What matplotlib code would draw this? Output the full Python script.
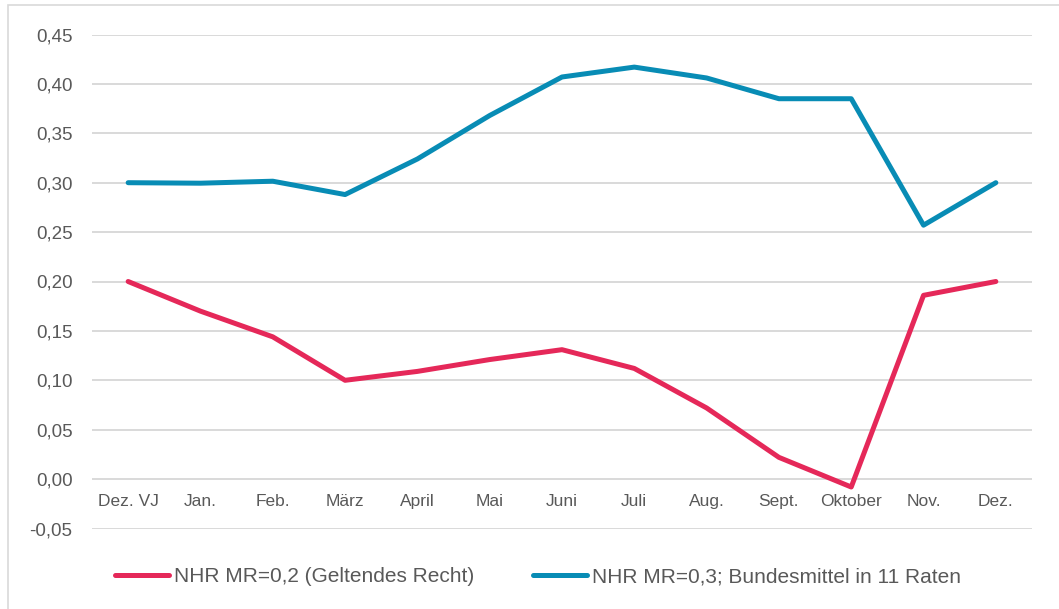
import matplotlib
matplotlib.use("Agg")
import matplotlib.pyplot as plt
from matplotlib.patches import Rectangle
from matplotlib.ticker import FixedLocator, FuncFormatter

categories = ["Dez. VJ", "Jan.", "Feb.", "März", "April", "Mai", "Juni",
              "Juli", "Aug.", "Sept.", "Oktober", "Nov.", "Dez."]
nhr_02 = [0.200, 0.170, 0.144, 0.100, 0.109, 0.121, 0.131,
          0.112, 0.072, 0.022, -0.008, 0.186, 0.200]
nhr_03 = [0.300, 0.2995, 0.3015, 0.288, 0.324, 0.368, 0.407,
          0.417, 0.406, 0.385, 0.385, 0.257, 0.300]
label_02 = "NHR MR=0,2 (Geltendes Recht)"
label_03 = "NHR MR=0,3; Bundesmittel in 11 Raten"
yticks = [-0.05, 0.00, 0.05, 0.10, 0.15, 0.20, 0.25, 0.30, 0.35, 0.40, 0.45]

RED = "#E52859"
BLUE = "#088CB5"
TXT = "#595959"
GRID = "#D9D9D9"

plt.rcParams['font.family'] = ['Liberation Sans', 'DejaVu Sans']

fig = plt.figure(figsize=(10.59, 6.09), dpi=100)
W, H = 1059, 609
ax = fig.add_axes([92 / W, 1 - 528.5 / H, (1032 - 92) / W, (528.5 - 34.5) / H])

# figure border
fig.patches.append(Rectangle((8 / W, -0.05), 1.2, 1 - 5 / H + 0.05,
                             transform=fig.transFigure, fill=False,
                             edgecolor="#D9D9D9", linewidth=1.2))

x = list(range(len(categories)))
ax.plot(x, nhr_02, color=RED, linewidth=3.6, solid_capstyle='round',
        label=label_02, zorder=3)
ax.plot(x, nhr_03, color=BLUE, linewidth=3.6, solid_capstyle='round',
        label=label_03, zorder=3)

ax.set_xlim(-0.5, len(categories) - 0.5)
ax.set_ylim(-0.05, 0.45)
ax.yaxis.set_major_locator(FixedLocator(yticks))
ax.yaxis.set_major_formatter(FuncFormatter(lambda v, p: f"{v:.2f}".replace(".", ",")))
ax.grid(axis='y', color=GRID, linewidth=1.4)
ax.set_axisbelow(True)

for s in ['top', 'right', 'left']:
    ax.spines[s].set_visible(False)
ax.spines['bottom'].set_position(('data', 0))
ax.spines['bottom'].set_visible(False)

ax.set_xticks(x)
ax.set_xticklabels(categories)
ax.tick_params(axis='x', length=0, pad=11, labelsize=12.5, labelcolor=TXT)
ax.tick_params(axis='y', length=0, pad=14, labelsize=13.5, labelcolor=TXT)

leg = fig.legend(loc='center', bbox_to_anchor=(538 / W, 1 - 577 / H), ncol=2,
                 frameon=False, fontsize=15, handlelength=2.6,
                 handletextpad=0.25, columnspacing=2.8)
for t in leg.get_texts():
    t.set_color(TXT)
for h in leg.get_lines():
    h.set_linewidth(3.6)

fig.savefig("out.png", dpi=100)
